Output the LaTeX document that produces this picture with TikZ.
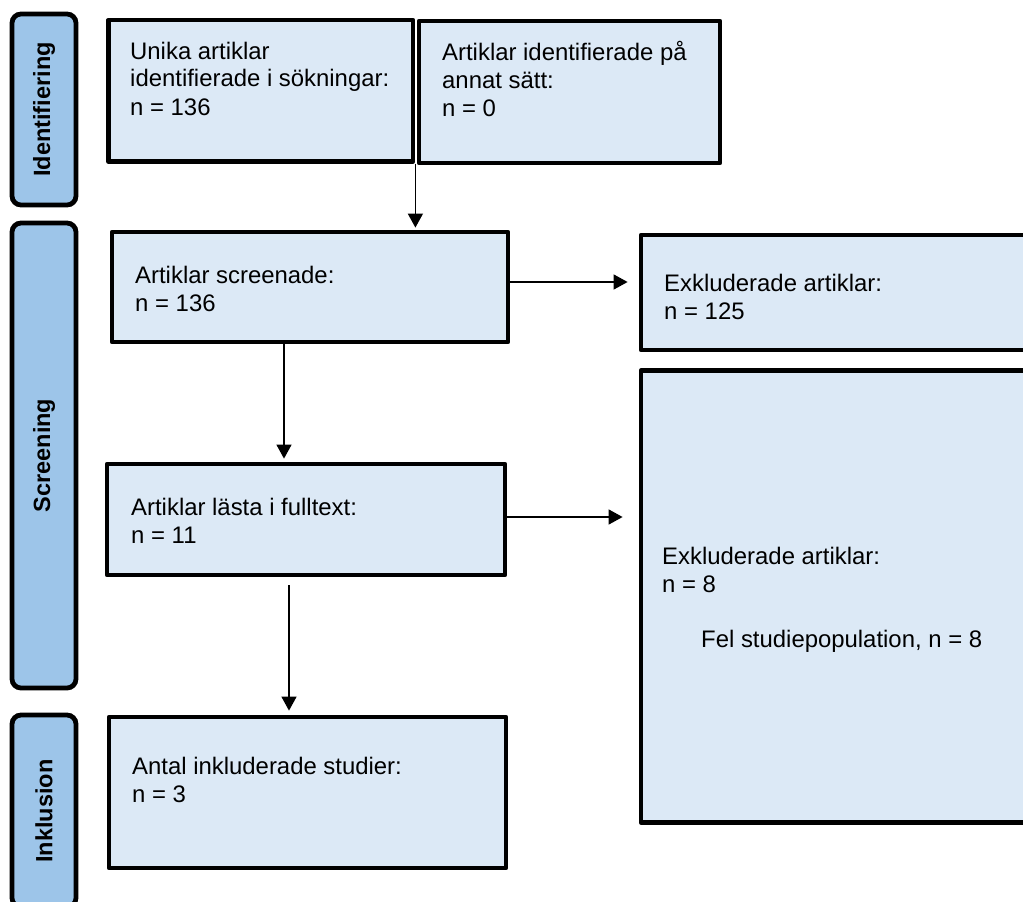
\documentclass[tikz,border=0pt]{standalone}
\usepackage{fontspec}
\setmainfont{Liberation Sans}
\usetikzlibrary{arrows.meta}
\definecolor{boxfill}{RGB}{220,233,246}
\definecolor{sidefill}{RGB}{157,197,233}
\newcommand{\mylines}[1]{\begin{tabular}[t]{@{}l@{}}#1\end{tabular}}
\begin{document}
\begin{tikzpicture}[x=1pt,y=-1pt,
  box/.style={draw=black, line width=4.8pt, fill=boxfill, inner sep=0pt, line join=round},
  side/.style={draw=black, line width=4.8pt, fill=sidefill, rounded corners=9pt, inner sep=0pt},
  sidetxt/.style={rotate=90, font=\fontsize{23.5}{28}\selectfont\bfseries, inner sep=0pt},
  txt/.style={anchor=base west, inner sep=0pt, font=\fontsize{23.9}{28}\selectfont},
  arr/.style={draw=black, line width=1.5pt, -{Triangle[length=14pt,width=15pt]}}]
\useasboundingbox (0,0) rectangle (1023,902);
\clip (0,0) rectangle (1023,902);

% side labels
\node[side, minimum width=64pt, minimum height=191pt] (sid) at (44,109.5) {};
\node[sidetxt] (sidt) at (sid.center) {Identifiering};
\node[side, minimum width=64pt, minimum height=465pt] (sscr) at (44,455.5) {};
\node[sidetxt] (sscrt) at (sscr.center) {Screening};
\node[side, minimum width=64pt, minimum height=192pt] (sinc) at (44,811) {};
\node[sidetxt] (sinct) at (sinc.center) {Inklusion};

% boxes
\node[box, minimum width=304.5pt, minimum height=141.5pt] (b1) at (260.75,90.75) {};
\node[txt] (b1t) at (130,59) {\mylines{Unika artiklar\\identifierade i sökningar:\\n = 136}};
\node[box, minimum width=301pt, minimum height=142pt] (b2) at (569.5,92) {};
\node[txt] (b2t) at (442,60) {\mylines{Artiklar identifierade på\\annat sätt:\\n = 0}};
\node[box, minimum width=396pt, minimum height=110pt] (b3) at (310,287) {};
\node[txt] (b3t) at (135,283) {\mylines{Artiklar screenade:\\n = 136}};
\node[box, minimum width=398pt, minimum height=111pt] (b4) at (306,519.5) {};
\node[txt] (b4t) at (131,515) {\mylines{Artiklar lästa i fulltext:\\n = 11}};
\node[box, minimum width=397pt, minimum height=151pt] (b6) at (307.5,792.5) {};
\node[txt] (b6t) at (132,774) {\mylines{Antal inkluderade studier:\\n = 3}};
\node[box, minimum width=399pt, minimum height=115pt] (e1) at (840.5,292.5) {};
\node[txt] (e1t) at (664,291) {\mylines{Exkluderade artiklar:\\n = 125}};
\node[box, minimum width=399pt, minimum height=452pt] (e2) at (840.5,596.5) {};
\node[txt] (e2t) at (662,564) {\mylines{Exkluderade artiklar:\\n = 8}};
\node[txt] (e2r) at (701,647) {Fel studiepopulation, n = 8};

% connectors
\draw[arr, shorten >=2pt] (b1.south east) -- (b1.south east |- b3.north);
\draw[arr, shorten >=11pt] ([yshift=5pt]b3.east) -- ([yshift=5pt]b3.east -| e1.west);
\draw[arr, shorten >=3pt] ([xshift=-26pt]b3.south) -- ([xshift=-26pt]b3.south |- b4.north);
\draw[arr, shorten >=16pt] ([yshift=2.5pt]b4.east) -- ([yshift=2.5pt]b4.east -| e2.west);
\draw[arr, shorten <=8pt, shorten >=4pt] ([xshift=-17pt]b4.south) -- ([xshift=-17pt]b4.south |- b6.north);
\end{tikzpicture}
\end{document}
